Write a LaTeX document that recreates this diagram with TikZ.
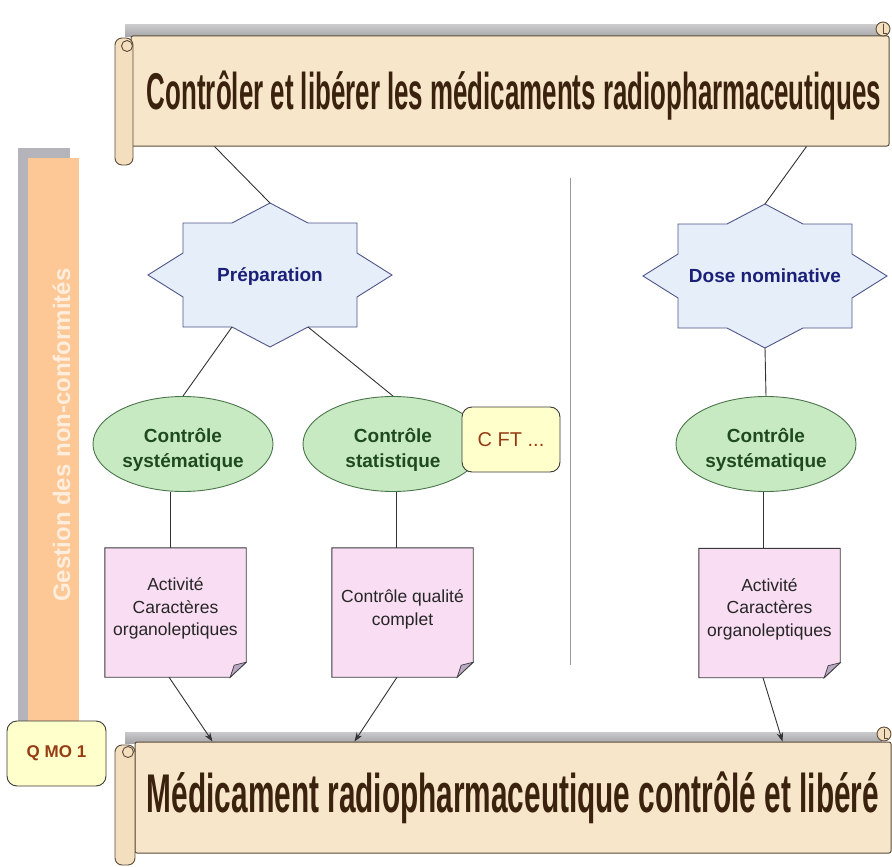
\documentclass[tikz,border=0pt]{standalone}
\usepackage{graphicx}
\usepackage{fontspec}
\setmainfont{Liberation Sans}
\usetikzlibrary{calc,arrows.meta,shapes.geometric}
\definecolor{cBand}{HTML}{A6A6AA}
\definecolor{cBanner}{HTML}{F7E6C9}
\definecolor{cBannerEdge}{HTML}{5B4B3B}
\definecolor{cRoll}{HTML}{F3DEBE}
\definecolor{cTitle}{HTML}{3A220E}
\definecolor{cBar}{HTML}{FDC896}
\definecolor{cBarSh}{HTML}{B4B4BA}
\definecolor{cBarText}{HTML}{FFEEDD}
\definecolor{cStarFill}{HTML}{E5EEF9}
\definecolor{cStarEdge}{HTML}{4F5689}
\definecolor{cStarText}{HTML}{1B1F78}
\definecolor{cEllFill}{HTML}{C8EAC2}
\definecolor{cEllEdge}{HTML}{4C744C}
\definecolor{cEllText}{HTML}{1E4A1E}
\definecolor{cNoteFill}{HTML}{F9DDF3}
\definecolor{cNoteEdge}{HTML}{3A3A3A}
\definecolor{cFold}{HTML}{B9A9C4}
\definecolor{cTagFill}{HTML}{FFFFCC}
\definecolor{cTagEdge}{HTML}{3A3A3A}
\definecolor{cTagText}{HTML}{963C14}
\definecolor{cLine}{HTML}{333333}
\definecolor{cDiv}{HTML}{9A9A9A}
\begin{document}
\begin{tikzpicture}[x=1pt,y=-1pt,
  conn/.style={draw=cLine, line width=0.9pt},
  arr/.style={conn, -{Stealth[length=9pt,width=6.5pt]}},
  bannerbody/.style={rectangle, draw=cBannerEdge, fill=cBanner, line width=1pt, rounded corners=2pt, inner sep=0pt},
  roll/.style={draw=cBannerEdge, fill=cRoll, line width=0.9pt},
  titletext/.style={inner sep=0pt, text=cTitle, font=\bfseries},
  starshape/.style={draw=cStarEdge, fill=cStarFill, line width=0.9pt, line join=miter},
  startxt/.style={inner sep=0pt, text=cStarText, font=\bfseries\fontsize{19}{23}\selectfont},
  ell/.style={ellipse, draw=cEllEdge, fill=cEllFill, line width=0.9pt, minimum width=180pt, minimum height=95pt, inner sep=0pt},
  elltxt/.style={align=center, inner sep=0pt, text=cEllText, font=\bfseries\fontsize{19}{25}\selectfont},
  notebox/.style={rectangle, minimum width=141pt, minimum height=129pt, inner sep=0pt},
  notetxt/.style={align=center, inner sep=0pt, text=black!85, font=\fontsize{17.5}{22.5}\selectfont},
  noteframe/.style={draw=cNoteEdge, fill=cNoteFill, line width=0.9pt},
  fold/.style={draw=cNoteEdge, fill=cFold, line width=0.7pt},
  tagbox/.style={rectangle, rounded corners=10pt, draw=cTagEdge, fill=cTagFill, line width=0.9pt, minimum width=98pt, minimum height=65pt, inner sep=0pt, text=cTagText}
]
\useasboundingbox (0,0) rectangle (892,867);
\fill[white] (0,0) rectangle (892,867);

% ---------- left bar ----------
\fill[cBarSh] (18,148) rectangle (70,721);
\fill[cBar] (28,158) rectangle (79,721);
\node[rotate=90, anchor=base, inner sep=0pt, text=cBarText, font=\bfseries\fontsize{24}{24}\selectfont] (gnc) at (70,435) {Gestion des non-conformités};

% ---------- top banner ----------
\shade[top color=cBand!60, bottom color=cBand] (125,25) rectangle (882,37);
\node[bannerbody, minimum width=758pt, minimum height=110pt] (title) at (510,91) {};
\draw[roll, rounded corners=7pt] (115,38) rectangle (133,165);
\draw[roll] (127,46) circle (5.5pt);
\draw[roll] (883,29) circle (7pt);
\draw[cBannerEdge, line width=0.7pt] (883,24) -- (883,33) -- (887,33);
\node[titletext, anchor=base] (titletxt) at (514,110) {\resizebox{734pt}{\height}{\fontsize{51.7}{52}\selectfont\bfseries Contrôler et libérer les médicaments radiopharmaceutiques}};

% ---------- bottom banner ----------
\shade[top color=cBand!60, bottom color=cBand] (125,732) rectangle (882,743);
\node[bannerbody, minimum width=756pt, minimum height=111pt] (result) at (513,797.5) {};
\draw[roll, rounded corners=7pt] (115,745) rectangle (135,865);
\draw[roll] (128,752) circle (5.5pt);
\draw[roll] (884,734) circle (7pt);
\draw[cBannerEdge, line width=0.7pt] (884,729) -- (884,738) -- (888,738);
\node[titletext, anchor=base] (resulttxt) at (513,812) {\resizebox{732pt}{\height}{\fontsize{54.5}{55}\selectfont\bfseries Médicament radiopharmaceutique contrôlé et libéré}};

% ---------- divider ----------
\coordinate (divtop) at (570,178);
\coordinate (divbot) at (570,665);
\draw[cDiv, line width=0.8pt] (divtop) -- (divbot);

% ---------- stars ----------
\coordinate (prepc) at (270,275);
\coordinate (dosec) at (765,276);
\foreach \c in {prepc,dosec}{
  \draw[starshape, shift={(\c)}] (0,-72) -- (38,-52) -- (87,-52) -- (87,-22) -- (122,0) -- (87,22) -- (87,52) -- (38,52) -- (0,72) -- (-38,52) -- (-87,52) -- (-87,22) -- (-122,0) -- (-87,-22) -- (-87,-52) -- (-38,-52) -- cycle;
}
\node[startxt] (prep) at ([yshift=-2pt]prepc) {Préparation};
\node[startxt] (dose) at (dosec) {Dose nominative};
\coordinate (prepTop) at ($(prepc)+(0,-72)$);
\coordinate (prepBL) at ($(prepc)+(-38,52)$);
\coordinate (prepBR) at ($(prepc)+(38,52)$);
\coordinate (doseTop) at ($(dosec)+(0,-72)$);
\coordinate (doseBot) at ($(dosec)+(0,72)$);

% ---------- ellipses ----------
\node[ell] (e1) at (183,444) {};
\node[ell] (e2) at (393,444) {};
\node[ell] (e3) at (766,444) {};
\node[elltxt] (e1t) at ([yshift=-6pt]e1.center) {Contrôle\\systématique};
\node[elltxt] (e2t) at ([yshift=-6pt]e2.center) {Contrôle\\statistique};
\node[elltxt] (e3t) at ([yshift=-6pt]e3.center) {Contrôle\\systématique};
\node[tagbox, font=\fontsize{20}{24}\selectfont] (cft) at (511,439.5) {C FT ...};

% ---------- notes ----------
\node[notebox] (n1) at (175.5,612.5) {};
\node[notebox] (n2) at (402.5,612.5) {};
\node[notebox] (n3) at (769.5,613) {};
\foreach \n in {n1,n2,n3}{
  \draw[noteframe] (\n.north west) -- (\n.north east) -- ([yshift=15pt]\n.south east) -- ([xshift=-16pt]\n.south east) -- (\n.south west) -- cycle;
  \draw[fold] ([yshift=15pt]\n.south east) -- ([xshift=-16pt]\n.south east) -- ([xshift=-12pt,yshift=12pt]\n.south east) -- cycle;
}
\node[notetxt] (n1t) at ([yshift=4pt]n1.center) {Activité\\Caractères\\organoleptiques};
\node[notetxt] (n2t) at ([yshift=3pt]n2.center) {Contrôle qualité\\complet};
\node[notetxt] (n3t) at ([yshift=4pt]n3.center) {Activité\\Caractères\\organoleptiques};

% ---------- QMO ----------
\node[tagbox, font=\bfseries\fontsize{17}{20}\selectfont, minimum width=99pt] (qmo) at (56.5,753.5) {Q MO 1};

% ---------- connectors ----------
\coordinate (tl1) at ($(title.south west)+(84,0)$);
\coordinate (tl2) at ($(title.south west)+(676,0)$);
\draw[conn] (tl1) -- (prepTop);
\draw[conn] (tl2) -- (doseTop);
\draw[conn] (prepBL) -- (e1.north);
\draw[conn] (prepBR) -- (e2.north);
\draw[conn] (doseBot) -- (e3.north);
\draw[conn] ([xshift=-13pt]e1.south) -- ([xshift=-13pt]e1.south |- n1.north);
\draw[conn] ([xshift=3pt]e2.south) -- ([xshift=3pt]e2.south |- n2.north);
\draw[conn] ([xshift=-3pt]e3.south) -- ([xshift=-3pt]e3.south |- n3.north);
\coordinate (r1) at ($(result.north west)+(78,0)$);
\coordinate (r2) at ($(result.north west)+(220,0)$);
\coordinate (r3) at ($(result.north west)+(648,0)$);
\draw[arr] ([xshift=-6.5pt]n1.south) -- (r1);
\draw[arr] ([xshift=-5.5pt]n2.south) -- (r2);
\draw[arr] ([xshift=-6.5pt]n3.south) -- (r3);
\end{tikzpicture}
\end{document}
